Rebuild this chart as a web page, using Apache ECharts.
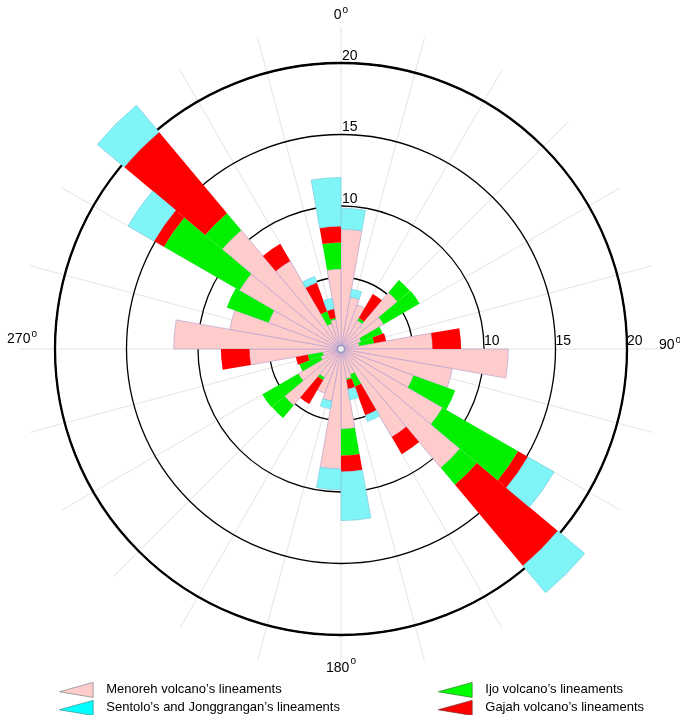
<!DOCTYPE html>
<html><head><meta charset="utf-8">
<script src="https://cdn.jsdelivr.net/npm/echarts@6/dist/echarts.min.js"></script>
<style>html,body{margin:0;padding:0;background:#fff}#c{width:680px;height:715px}</style>
</head><body><div id="c"></div>
<script>
// bin start angles (10 degree bins, clockwise from north)
const binStarts = ['0','10','20','30','40','50','60','70','80','90','100','110','120','130','140','150','160','170',
                   '180','190','200','210','220','230','240','250','260','270','280','290','300','310','320','330','340','350'];
// Menoreh volcano (pink)
const menoreh = [8.4,3.7,3.3,2.3,5.15,3.45,1.5,1.3,6.4,11.7,7.9,5.4,8.2,10.85,7.1,1.9,2.1,5.6,
                 8.4,3.7,3.3,2.3,5.15,3.45,1.5,1.3,6.4,11.7,7.9,5.4,8.2,10.85,7.1,1.9,2.1,5.6];
// Ijo volcano (green)
const ijo = [0,0,0,0.2,1.15,2.9,1.6,1.05,0,0,0,3.1,6.1,1.55,0,0.9,0.1,1.85,
             0,0,0,0.2,1.15,2.9,1.6,1.05,0,0,0,3.1,6.1,1.55,0,0.9,0.1,1.85];
// Gajah volcano (red)
const gajah = [0,0,0,1.95,0,0,0,0.85,2.0,0,0,0,0.8,7.4,1.4,2.15,0.65,1.15,
               0,0,0,1.95,0,0,0,0.85,2.0,0,0,0,0.8,7.4,1.4,2.15,0.65,1.15];
// Sentolo and Jonggrangan (cyan)
const sentolo = [1.45,0.55,0,0,0,0,0,0,0,0,0,0,2.1,2.45,0,0.45,0.75,3.4,
                 1.45,0.55,0,0,0,0,0,0,0,0,0,0,2.1,2.45,0,0.45,0.75,3.4];
const radiusLabels = [10, 15, 20];
const angleLabels = [0, 90, 180, 270];
const names = {
  menoreh: 'Menoreh volcano\u2019s lineaments',
  sentolo: 'Sentolo\u2019s and Jonggrangan\u2019s lineaments',
  ijo: 'Ijo volcano\u2019s lineaments',
  gajah: 'Gajah volcano\u2019s lineaments'
};

const FONT = 'Liberation Sans, Arial, sans-serif';
const CX = 341, CY = 349, R20 = 286, RG = 322, RL = 302;
const toData = arr => arr.map(v => v === 0 ? '-' : v);

const chart = echarts.init(document.getElementById('c'));
const barSeries = (name, data, color, border, bw) => ({
  type: 'bar', name, coordinateSystem: 'polar', polarIndex: 0, stack: 'rose',
  data: toData(data), barCategoryGap: '0%', clip: false, z: 2,
  itemStyle: {color, borderColor: border, borderWidth: bw},
  emphasis: {disabled: true}
});
const legendIcon = 'path://M0,10L36,0L36,16Z';
const legendText = {fontSize: 13, color: '#000', fontFamily: FONT, padding: [0, 0, 0, 7]};
const oneLegend = (left, top, name, style) => ({
  left, top, orient: 'vertical', itemWidth: 36, itemHeight: 15, icon: legendIcon,
  textStyle: legendText, selectedMode: false, data: [{name, itemStyle: style}]
});

// compass label placement: line height and top paddings of digit / superscript
const labelLayout = {0: [40, 3, 0], 90: [27, 3, 0], 180: [24, 8, 3], 270: [40, 3, 0]};
const rich = {};
angleLabels.forEach(c => {
  const [lh, pa, ps] = labelLayout[c];
  rich['a' + c] = {fontSize: 14, fontFamily: FONT, color: '#000', lineHeight: lh, verticalAlign: 'top', padding: [pa, 0, 0, c === 90 ? 14 : 0]};
  rich['s' + c] = {fontSize: 10, fontFamily: FONT, color: '#000', lineHeight: lh, verticalAlign: 'top', padding: [ps, 0, 0, 1]};
});

chart.setOption({
  backgroundColor: '#fff',
  animation: false,
  textStyle: {fontFamily: FONT},
  polar: [
    {center: [CX, CY], radius: R20},
    {center: [CX, CY], radius: RG},
    {center: [CX, CY], radius: RL}
  ],
  angleAxis: [
    {polarIndex: 0, type: 'category', data: binStarts, startAngle: 90, clockwise: true, boundaryGap: true, z: 1,
     axisLine: {show: true, lineStyle: {color: '#000', width: 2.3}},
     axisTick: {show: false}, axisLabel: {show: false}, splitLine: {show: false}},
    {polarIndex: 1, type: 'value', min: 0, max: 360, interval: 15, startAngle: 0, clockwise: true, z: 0,
     axisLine: {show: false}, axisTick: {show: false}, axisLabel: {show: false},
     splitLine: {show: true, lineStyle: {color: '#e4e4e4', width: 1}}},
    {polarIndex: 2, type: 'value', min: 0, max: 360, interval: 90, startAngle: 90, clockwise: true, z: 0,
     axisLine: {show: false}, axisTick: {show: false}, splitLine: {show: false},
     axisLabel: {show: true, margin: 2, color: '#000',
       formatter: v => (v < 360 && angleLabels.includes(v)) ? '{a' + v + '|' + v + '}{s' + v + '|o}' : '',
       rich}}
  ],
  radiusAxis: [
    {polarIndex: 0, type: 'value', min: 0, max: 20, interval: 5, z: 1,
     axisLine: {show: false}, axisTick: {show: false},
     splitLine: {show: true, lineStyle: {color: '#000', width: 1.3}},
     axisLabel: {margin: -1, align: 'left', verticalAlign: 'bottom', fontSize: 14, color: '#000', fontFamily: FONT,
       formatter: v => radiusLabels.includes(v) ? String(v) : ''}},
    {polarIndex: 1, type: 'value', min: 0, max: 20 * RG / R20, interval: 5, z: 1,
     axisLine: {show: false}, axisTick: {show: false}, splitLine: {show: false},
     axisLabel: {margin: 1, align: 'left', verticalAlign: 'bottom', fontSize: 14, color: '#000', fontFamily: FONT,
       formatter: v => radiusLabels.includes(v) ? String(v) : ''}},
    {polarIndex: 2, type: 'value', min: 0, max: 20, z: 0,
     axisLine: {show: false}, axisTick: {show: false}, splitLine: {show: false}, axisLabel: {show: false}}
  ],
  legend: [
    oneLegend(54, 677, names.menoreh, {color: '#FFCCCC', borderColor: '#8f8f8f', borderWidth: 0.8}),
    oneLegend(54, 695, names.sentolo, {color: '#00FFFF', borderColor: '#3a9a9a', borderWidth: 0.8}),
    oneLegend(433, 677, names.ijo, {color: '#00FF00', borderColor: '#2a8a2a', borderWidth: 0.8}),
    oneLegend(433, 695, names.gajah, {color: '#FF0000', borderColor: '#8a2a2a', borderWidth: 0.8})
  ],
  series: [
    barSeries(names.menoreh, menoreh, '#FFCCCC', '#b9a2cf', 0.7),
    barSeries(names.ijo, ijo, '#00F000', '#00F000', 0),
    barSeries(names.gajah, gajah, '#FF0000', '#FF0000', 0),
    barSeries(names.sentolo, sentolo, '#80F5F8', '#7ccbe0', 0.7),
    {type: 'scatter', coordinateSystem: 'polar', polarIndex: 0, data: [[0, 0]], symbol: 'circle', symbolSize: 7, z: 5,
     itemStyle: {color: '#ffffff', borderColor: '#7f8fb8', borderWidth: 1.5}, silent: true}
  ]
});
</script>
</body></html>
